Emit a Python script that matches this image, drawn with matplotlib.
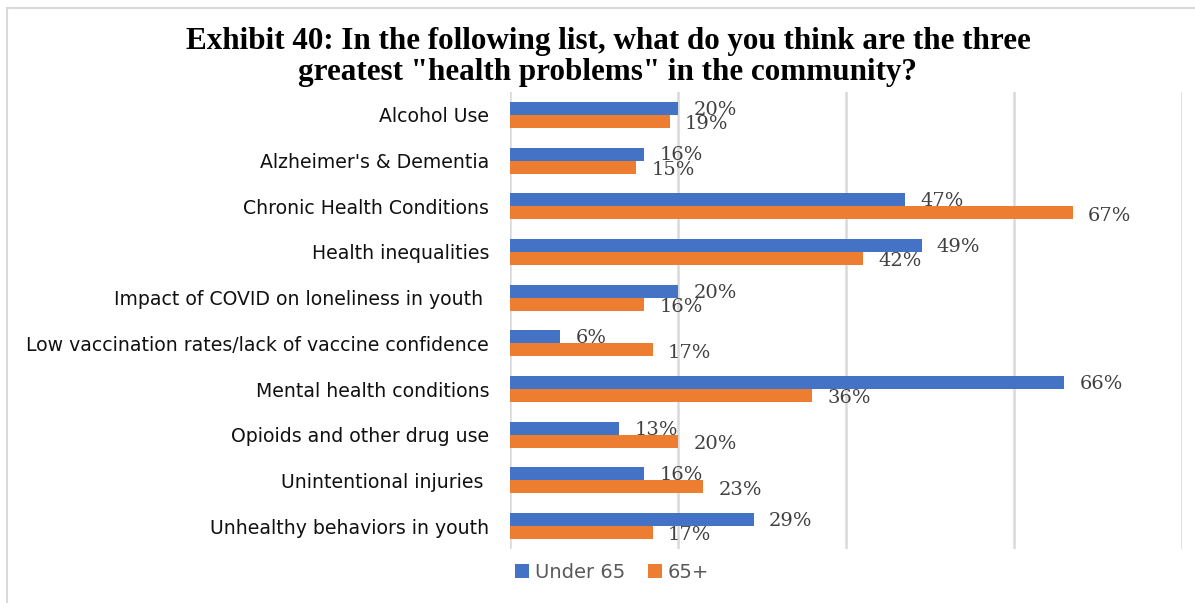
import matplotlib
matplotlib.use("Agg")
import matplotlib.pyplot as plt
from matplotlib.patches import Rectangle

categories = ["Alcohol Use", "Alzheimer's & Dementia", "Chronic Health Conditions",
              "Health inequalities", "Impact of COVID on loneliness in youth ",
              "Low vaccination rates/lack of vaccine confidence",
              "Mental health conditions", "Opioids and other drug use",
              "Unintentional injuries ", "Unhealthy behaviors in youth"]
under65 = [20, 16, 47, 49, 20, 6, 66, 13, 16, 29]
over65 = [19, 15, 67, 42, 16, 17, 36, 20, 23, 17]
series_names = ["Under 65", "65+"]
title = 'Exhibit 40: In the following list, what do you think are the three\ngreatest "health problems" in the community?'

BLUE = "#4472C4"
ORANGE = "#ED7D31"
W, H = 1195, 603

fig = plt.figure(figsize=(W / 100, H / 100), dpi=100)
fig.patches.append(Rectangle((7 / W, -0.1), 1.2, 1 - 8 / H + 0.1, transform=fig.transFigure,
                             fill=False, edgecolor="#D9D9D9", linewidth=1.5))
ax = fig.add_axes([510 / W, 1 - 549 / H, (1182 - 510) / W, (549 - 92) / H])

y = list(range(len(categories)))
bh = 0.285
ax.barh([v - bh / 2 for v in y], under65, height=bh, color=BLUE, label=series_names[0], zorder=3)
ax.barh([v + bh / 2 for v in y], over65, height=bh, color=ORANGE, label=series_names[1], zorder=3)

for i in y:
    ax.annotate(f"{under65[i]}%", (under65[i], i - bh / 2), xytext=(11, -1), textcoords="offset points",
                va="center", ha="left", fontsize=14, family="DejaVu Serif", color="#404040", zorder=4)
    ax.annotate(f"{over65[i]}%", (over65[i], i + bh / 2), xytext=(11, -2), textcoords="offset points",
                va="center", ha="left", fontsize=14, family="DejaVu Serif", color="#404040", zorder=4)

ax.set_xlim(0, 80)
ax.set_ylim(len(categories) - 0.5, -0.5)
ax.set_xticks([0, 20, 40, 60, 80])
ax.set_xticklabels([])
ax.tick_params(axis="x", length=0)
ax.tick_params(axis="y", length=0, pad=15)
ax.set_yticks(y)
ax.set_yticklabels(categories, fontsize=13.6, family="DejaVu Sans", color="#111111")
ax.grid(axis="x", color="#D9D9D9", linewidth=1.8, zorder=0)
for s in ax.spines.values():
    s.set_visible(False)

fig.text(608 / W, 1 - 57 / H, title, ha="center", va="center", fontsize=22.4,
         fontweight="bold", family="Liberation Serif", linespacing=1.12)

leg = fig.legend(loc="center", bbox_to_anchor=(612 / W, 1 - 572 / H), ncol=2, frameon=False,
                 handlelength=0.7, handleheight=0.7, handletextpad=0.3,
                 columnspacing=1.2, prop={"family": "DejaVu Sans", "size": 14})
for t in leg.get_texts():
    t.set_color("#595959")

fig.savefig("out.png", dpi=100)
